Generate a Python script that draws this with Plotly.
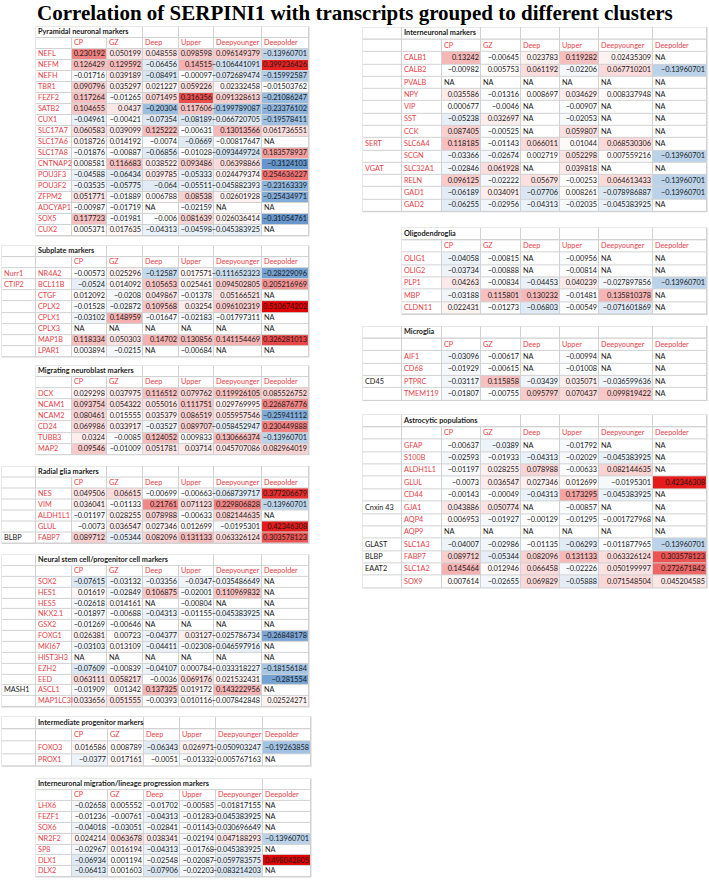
import plotly.graph_objects as go

# ---------------- DATA ----------------
columns = ["CP", "GZ", "Deep", "Upper", "Deepyounger", "Deepolder"]
NA = None

pyr_title = "Pyramidal neuronal markers"
pyr_alias = None
pyr_genes = ["NEFL", "NEFM", "NEFH", "TBR1", "FEZF2", "SATB2", "CUX1", "SLC17A7", "SLC17A6",
             "SLC17A8", "CNTNAP2", "POU3F3", "POU3F2", "ZFPM2", "ADCYAP1", "SOX5", "CUX2"]
pyr_values = [
    [0.230192, 0.050199, 0.048558, 0.098598, 0.096149379, -0.13960701],
    [0.126429, 0.129592, -0.06456, 0.14515, -0.106441091, 0.399236426],
    [-0.01716, 0.039189, -0.08491, -0.00097, -0.072689474, -0.15992587],
    [0.090796, 0.035297, 0.021227, 0.059226, 0.02332458, -0.01503762],
    [0.117264, -0.01265, 0.071495, 0.316356, 0.091328613, -0.21086247],
    [0.104655, 0.0437, -0.20304, 0.117606, -0.199789087, -0.23376102],
    [-0.04961, -0.00421, -0.07354, -0.08189, -0.066720705, -0.19578411],
    [0.060583, 0.039099, 0.125222, -0.00631, 0.13013566, 0.061736551],
    [0.018726, 0.014192, -0.0074, -0.0669, -0.00817647, NA],
    [-0.01876, -0.00887, -0.06856, -0.01028, -0.093449724, 0.183578937],
    [0.008581, 0.116683, 0.038522, 0.093486, 0.06398866, -0.3124103],
    [-0.04588, -0.06434, 0.039785, -0.05333, 0.024479374, 0.254636227],
    [-0.03535, -0.05775, -0.064, -0.05511, -0.045882393, -0.23163339],
    [0.051771, -0.01889, 0.006788, 0.08538, 0.02601928, -0.25434971],
    [-0.00987, -0.01719, NA, -0.02159, NA, NA],
    [0.117723, -0.01981, -0.006, 0.081639, 0.026036414, -0.31054761],
    [0.005371, 0.017635, -0.04313, -0.04598, -0.045383925, NA],
]

sub_title = "Subplate markers"
sub_alias = ["Nurr1", "CTIP2", "", "", "", "", "", ""]
sub_genes = ["NR4A2", "BCL11B", "CTGF", "CPLX2", "CPLX1", "CPLX3", "MAP1B", "LPAR1"]
sub_values = [
    [-0.00573, 0.025296, -0.12587, 0.017571, -0.111652323, -0.28229096],
    [-0.0524, 0.014092, 0.105653, 0.025461, 0.094502805, 0.205216969],
    [0.012092, -0.0208, 0.049867, -0.01378, 0.05166521, NA],
    [-0.01528, -0.02872, 0.109568, 0.03254, 0.096102319, 0.510674202],
    [-0.03102, 0.148959, -0.01647, -0.02183, -0.01797311, NA],
    [NA, NA, NA, NA, NA, NA],
    [0.118334, 0.050303, 0.14702, 0.130856, 0.141154469, 0.326281013],
    [0.003894, -0.0215, NA, -0.00684, NA, NA],
]

mig_title = "Migrating neuroblast markers"
mig_alias = None
mig_genes = ["DCX", "NCAM1", "NCAM2", "CD24", "TUBB3", "MAP2"]
mig_values = [
    [0.029298, 0.037975, 0.116512, 0.079762, 0.119926105, 0.085526752],
    [0.093754, 0.054322, 0.055016, 0.111751, 0.029769995, 0.226876776],
    [0.080461, 0.015555, 0.035379, 0.086519, 0.055957546, -0.25941112],
    [0.069986, 0.033917, -0.03527, 0.089707, -0.058452947, 0.230449888],
    [0.0324, -0.0085, 0.124052, 0.009833, 0.130666374, -0.13960701],
    [0.09546, -0.01009, 0.051781, 0.03714, 0.045707086, 0.082964019],
]

rg_title = "Radial glia markers"
rg_alias = ["", "", "", "", "BLBP"]
rg_genes = ["NES", "VIM", "ALDH1L1", "GLUL", "FABP7"]
rg_values = [
    [0.049506, 0.06615, -0.00699, -0.00663, -0.068739717, 0.377206679],
    [0.036041, -0.01133, 0.21761, 0.071123, 0.229806828, -0.13960701],
    [-0.01197, 0.028255, 0.078988, -0.00633, 0.082144635, NA],
    [-0.0073, 0.036547, 0.027346, 0.012699, -0.0195301, 0.42346308],
    [0.089712, -0.05344, 0.082096, 0.131133, 0.063326124, 0.303578123],
]

ns_title = "Neural stem cell/progenitor cell markers"
ns_alias = ["", "", "", "", "", "", "", "", "", "", "MASH1", ""]
ns_genes = ["SOX2", "HES1", "HES5", "NKX2.1", "GSX2", "FOXG1", "MKI67", "HIST3H3", "EZH2",
            "EED", "ASCL1", "MAP1LC3I"]
ns_values = [
    [-0.07615, -0.03132, -0.03356, -0.0347, -0.035486649, NA],
    [0.01619, -0.02849, 0.106875, -0.02001, 0.110969832, NA],
    [-0.02618, 0.014161, NA, -0.00804, NA, NA],
    [-0.01897, -0.00688, -0.04313, -0.01155, -0.045383925, NA],
    [-0.01269, -0.00646, NA, NA, NA, NA],
    [0.026381, 0.00723, -0.04377, 0.03127, -0.025786734, -0.26848178],
    [-0.03103, 0.013109, -0.04411, -0.02308, -0.046597916, NA],
    [NA, NA, NA, NA, NA, NA],
    [-0.07609, -0.00839, -0.04107, 0.000784, -0.033318227, -0.18156184],
    [0.063111, 0.058217, -0.0036, 0.069176, 0.021532431, -0.281554],
    [-0.01909, 0.01342, 0.137325, 0.019172, 0.143222956, NA],
    [0.033656, 0.051555, -0.00393, 0.010116, -0.007842848, 0.02524271],
]

ip_title = "Intermediate progenitor markers"
ip_alias = ["", ""]
ip_genes = ["FOXO3", "PROX1"]
ip_values = [
    [0.016586, 0.008789, -0.06343, 0.026971, -0.050903247, -0.19263858],
    [-0.0377, 0.017161, -0.0051, -0.01332, -0.005767163, NA],
]

im_title = "Interneuronal migration/lineage progression markers"
im_alias = None
im_genes = ["LHX6", "FEZF1", "SOX6", "NR2F2", "SP8", "DLX1", "DLX2"]
im_values = [
    [-0.02658, 0.005552, -0.01702, -0.00585, -0.01817155, NA],
    [-0.01236, -0.00761, -0.04313, -0.01283, -0.045383925, NA],
    [-0.04018, -0.03051, -0.02841, -0.01143, -0.030696649, NA],
    [0.024214, 0.063678, 0.038341, -0.02194, 0.047188293, -0.13960701],
    [-0.02967, 0.016194, -0.04313, -0.01768, -0.045383925, NA],
    [-0.06934, 0.001194, -0.02548, -0.02087, -0.059783575, 0.498042805],
    [-0.06413, 0.001603, -0.07906, -0.02203, -0.083214203, NA],
]

in_title = "Interneuronal markers"
in_alias = ["", "", "", "", "", "", "", "SERT", "", "VGAT", "", "", ""]
in_genes = ["CALB1", "CALB2", "PVALB", "NPY", "VIP", "SST", "CCK", "SLC6A4", "SCGN",
            "SLC32A1", "RELN", "GAD1", "GAD2"]
in_values = [
    [0.13242, -0.00645, 0.023783, 0.119282, 0.02435309, NA],
    [-0.00982, 0.005753, 0.061192, -0.02206, 0.067710201, -0.13960701],
    [NA, NA, NA, NA, NA, NA],
    [0.035586, -0.01316, 0.008697, 0.034629, 0.008337948, NA],
    [0.000677, -0.0046, NA, -0.00907, NA, NA],
    [-0.05238, 0.032697, NA, -0.02053, NA, NA],
    [0.087405, -0.00525, NA, 0.059807, NA, NA],
    [0.118185, -0.01143, 0.066011, 0.01044, 0.068530306, NA],
    [-0.03366, -0.02674, 0.002719, 0.052298, 0.007559216, -0.13960701],
    [-0.02846, 0.061928, NA, 0.039818, NA, NA],
    [0.096125, -0.02222, 0.05679, -0.00253, 0.064613433, -0.13960701],
    [-0.06189, 0.034091, -0.07706, 0.008261, -0.078986887, -0.13960701],
    [-0.06255, -0.02956, -0.04313, -0.02035, -0.045383925, NA],
]

ol_title = "Oligodendroglia"
ol_alias = None
ol_genes = ["OLIG1", "OLIG2", "PLP1", "MBP", "CLDN11"]
ol_values = [
    [-0.04058, -0.00815, NA, -0.00956, NA, NA],
    [-0.03734, -0.00888, NA, -0.00814, NA, NA],
    [0.04263, -0.00834, -0.04453, 0.040239, -0.027897856, -0.13960701],
    [-0.03188, 0.115801, 0.130232, -0.01481, 0.135810378, NA],
    [0.022431, -0.01273, -0.06803, -0.00549, -0.071601869, NA],
]

mg_title = "Microglia"
mg_alias = ["", "", "CD45", ""]
mg_genes = ["AIF1", "CD68", "PTPRC", "TMEM119"]
mg_values = [
    [-0.03096, -0.00617, NA, -0.00994, NA, NA],
    [-0.01929, -0.00615, NA, -0.01008, NA, NA],
    [-0.03117, 0.115858, -0.03439, 0.035071, -0.036599636, NA],
    [-0.01807, -0.00755, 0.095797, 0.070437, 0.099819422, NA],
]

as_title = "Astrocytic populations"
as_alias = ["", "", "", "", "", "Cnxin 43", "", "", "GLAST", "BLBP", "EAAT2", ""]
as_genes = ["GFAP", "S100B", "ALDH1L1", "GLUL", "CD44", "GJA1", "AQP4", "AQP9", "SLC1A3",
            "FABP7", "SLC1A2", "SOX9"]
as_values = [
    [-0.00637, -0.0389, NA, -0.01792, NA, NA],
    [-0.02593, -0.01933, -0.04313, -0.02029, -0.045383925, NA],
    [-0.01197, 0.028255, 0.078988, -0.00633, 0.082144635, NA],
    [-0.0073, 0.036547, 0.027346, 0.012699, -0.0195301, 0.42346308],
    [-0.00143, -0.00049, -0.04313, 0.173295, -0.045383925, NA],
    [0.043886, 0.050774, NA, -0.00857, NA, NA],
    [0.006953, -0.01927, -0.00129, -0.01295, -0.001727968, NA],
    [NA, NA, NA, NA, NA, NA],
    [-0.04007, -0.02986, -0.01135, -0.06293, -0.011877965, -0.13960701],
    [0.089712, -0.05344, 0.082096, 0.131133, 0.063326124, 0.303578123],
    [0.145464, 0.012946, 0.066458, -0.02226, 0.050199997, 0.272671842],
    [0.007614, -0.02655, 0.069829, -0.05888, 0.071548504, 0.045204585],
]

# ---------------- LAYOUT / STYLE ----------------
W, H = 709, 881
LEFT_A = [2, 36, 72, 107, 143, 179, 214, 262, 309]
LEFT_B = [2, 36, 72, 108, 144, 180, 216, 263, 311]
RIGHT = [363, 402, 442, 481, 521, 560, 599, 653, 707]

panels = [
    # title, alias, genes, values, x edges, top, row height, title merge end
    (pyr_title, pyr_alias, pyr_genes, pyr_values, LEFT_A[1:], 27, 11.0, 143),
    (sub_title, sub_alias, sub_genes, sub_values, LEFT_A, 246, 11.1, 107),
    (mig_title, mig_alias, mig_genes, mig_values, LEFT_A[1:], 366, 11.1, 143),
    (rg_title, rg_alias, rg_genes, rg_values, LEFT_A, 466.5, 11.0, 107),
    (ns_title, ns_alias, ns_genes, ns_values, LEFT_A, 555, 10.85, 214),
    (ip_title, ip_alias, ip_genes, ip_values, LEFT_B, 717, 12.3, 144),
    (im_title, im_alias, im_genes, im_values, LEFT_B[1:], 779, 10.9, 263),
    (in_title, in_alias, in_genes, in_values, RIGHT, 27.5, 12.28, 481),
    (ol_title, ol_alias, ol_genes, ol_values, RIGHT[1:], 228, 12.35, 481),
    (mg_title, mg_alias, mg_genes, mg_values, RIGHT, 326.5, 12.33, 442),
    (as_title, as_alias, as_genes, as_values, RIGHT, 415, 12.36, 521),
]

red_aliases = {"Nurr1", "CTIP2", "SERT", "VGAT"}
RED = "#e8414a"
GRID = "#d2d2d2"
FONT = "Lato"
FS = 7.3
ZMIN, ZMAX = -0.35, 0.5


def p(v):
    return (v - ZMIN) / (ZMAX - ZMIN)


colorscale = [
    [0.0, "#5288c6"],
    [p(-0.2), "#9dc0e2"],
    [p(-0.1), "#cfe0f0"],
    [p(0.0), "#ffffff"],
    [p(0.1), "#f8c8c8"],
    [p(0.2), "#f29494"],
    [p(0.3), "#ec5656"],
    [p(0.4), "#e62222"],
    [1.0, "#e00000"],
]


def fmt(v):
    return repr(v).replace("-", "\u2212")


fig = go.Figure()

val_x, val_y, val_t, val_pos = [], [], [], []
red_x, red_y, red_t = [], [], []
blk_x, blk_y, blk_t = [], [], []
ttl_x, ttl_y, ttl_t = [], [], []

for title, alias, genes, values, xe, top, rh, merge_end in panels:
    g = 1 if alias is not None else 0
    nlab = g + 1
    nrows = len(genes) + 1
    yedges = [top + rh * (i + 1) for i in range(nrows + 1)]
    z = [[0] * (len(xe) - 1)]
    for row in values:
        z.append([0] * nlab + [0 if v is None else v for v in row])
    # grey backing (gridlines show through gaps)
    fig.add_shape(type="rect", xref="x", yref="y", x0=xe[0] - 0.5, x1=xe[-1] + 0.5,
                  y0=top - 0.5, y1=top + rh * (nrows + 1) + 0.5,
                  fillcolor=GRID, line_width=0, layer="below")
    fig.add_trace(go.Heatmap(x=xe, y=yedges, z=z, colorscale=colorscale, zmin=ZMIN, zmax=ZMAX,
                             showscale=False, xgap=1, ygap=1, hoverinfo="skip"))
    tx = xe[:g + 1] + [merge_end] + [e for e in xe if e > merge_end]
    fig.add_trace(go.Heatmap(x=tx, y=[top, top + rh], z=[[0] * (len(tx) - 1)],
                             colorscale=colorscale, zmin=ZMIN, zmax=ZMAX,
                             showscale=False, xgap=1, ygap=1, hoverinfo="skip"))
    # texts
    ttl_x.append(xe[g] + 2); ttl_y.append(top + rh / 2); ttl_t.append(title)
    for i, c in enumerate(columns):
        red_x.append(xe[g + 1 + i] + 2); red_y.append(top + 1.5 * rh); red_t.append(c)
    for r, gene in enumerate(genes):
        yc = top + (2.5 + r) * rh
        red_x.append(xe[g] + 2); red_y.append(yc); red_t.append(gene)
        if alias is not None and alias[r]:
            if alias[r] in red_aliases:
                red_x.append(xe[0] + 2); red_y.append(yc); red_t.append(alias[r])
            else:
                blk_x.append(xe[0] + 2); blk_y.append(yc); blk_t.append(alias[r])
        for i, v in enumerate(values[r]):
            if v is None:
                val_x.append(xe[g + 1 + i] + 2); val_pos.append("middle right"); val_t.append("NA")
            else:
                val_x.append(xe[g + 2 + i] - 2); val_pos.append("middle left"); val_t.append(fmt(v))
            val_y.append(yc)

fig.add_trace(go.Scatter(x=val_x, y=val_y, text=val_t, mode="text", textposition=val_pos,
                         textfont=dict(family=FONT, size=FS, color="#1a1a1a"),
                         hoverinfo="skip", cliponaxis=False))
fig.add_trace(go.Scatter(x=red_x, y=red_y, text=red_t, mode="text", textposition="middle right",
                         textfont=dict(family=FONT, size=FS, color=RED),
                         hoverinfo="skip", cliponaxis=False))
fig.add_trace(go.Scatter(x=blk_x, y=blk_y, text=blk_t, mode="text", textposition="middle right",
                         textfont=dict(family=FONT, size=FS, color="#1a1a1a"),
                         hoverinfo="skip", cliponaxis=False))
fig.add_trace(go.Scatter(x=ttl_x, y=ttl_y, text=["<b>%s</b>" % t for t in ttl_t], mode="text",
                         textposition="middle right",
                         textfont=dict(family=FONT, size=FS, color="#1a1a1a"),
                         hoverinfo="skip", cliponaxis=False))

fig.add_annotation(text="<b>Correlation of SERPINI1 with transcripts grouped to different clusters</b>",
                   xref="x", yref="y", x=354.5, y=13, xanchor="center", yanchor="middle",
                   showarrow=False, font=dict(family="Liberation Serif", size=21, color="#000000"))

fig.update_layout(
    width=W, height=H, margin=dict(l=0, r=0, t=0, b=0),
    paper_bgcolor="white", plot_bgcolor="white", showlegend=False,
    xaxis=dict(range=[0, W], visible=False, fixedrange=True),
    yaxis=dict(range=[H, 0], visible=False, fixedrange=True),
)

# remove the page's default body margin so the figure sits at the window's top-left
fig.write_html("out.html",
               config={"displayModeBar": False, "staticPlot": True},
               post_script="document.body.style.margin='0px';"
                           "document.documentElement.style.overflow='hidden';")
